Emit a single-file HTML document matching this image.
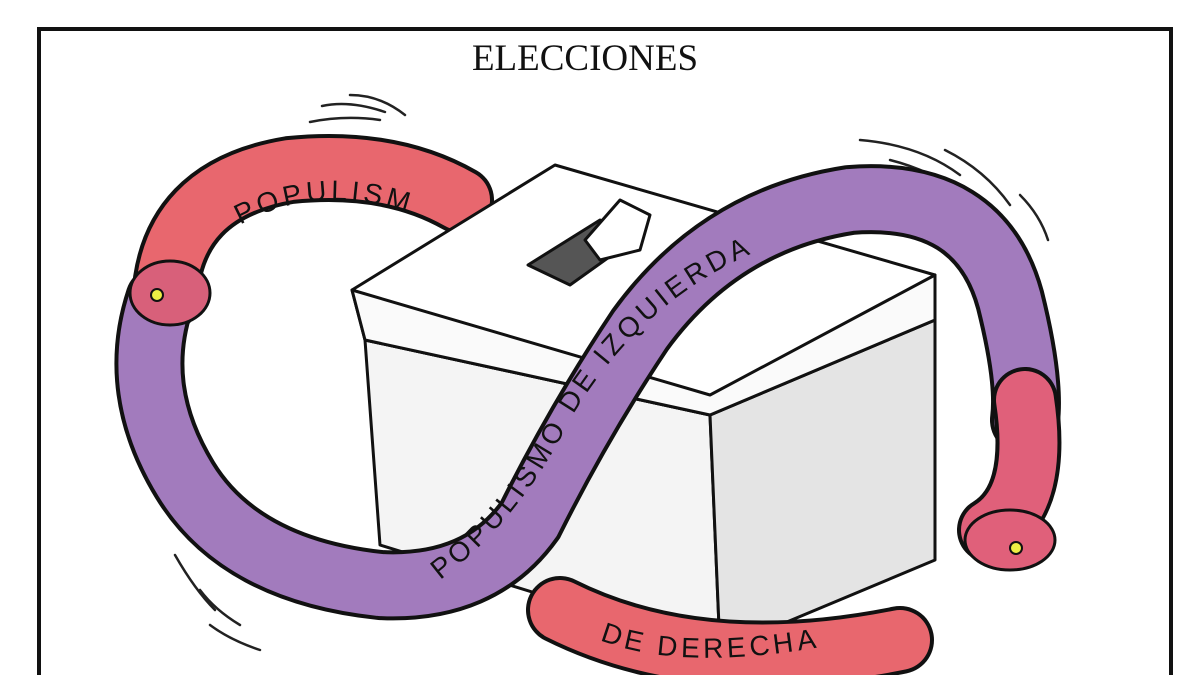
<!DOCTYPE html>
<html><head><meta charset="utf-8"><style>
html,body{margin:0;padding:0;background:#fff;width:1200px;height:675px;overflow:hidden}
svg{display:block}
</style></head><body>
<svg width="1200" height="675" viewBox="0 0 1200 675" xmlns="http://www.w3.org/2000/svg">
<path d="M39 675 L39 29 L1171 29 L1171 675" fill="none" stroke="#111" stroke-width="4"/>
<text x="585" y="70" text-anchor="middle" font-family="Liberation Serif, serif" font-size="37" fill="#111">ELECCIONES</text>
<g stroke="#222" stroke-width="2.5" fill="none" stroke-linecap="round">
<path d="M310 122 Q345 115 380 120"/><path d="M322 106 Q350 100 385 112"/><path d="M350 95 Q380 95 405 115"/>
<path d="M860 140 Q920 145 960 175"/><path d="M890 160 Q930 170 965 195"/><path d="M945 150 Q985 170 1010 205"/><path d="M1020 195 Q1040 215 1048 240"/>
<path d="M175 555 Q195 590 215 610"/><path d="M200 590 Q215 610 240 625"/><path d="M210 625 Q230 640 260 650"/>
</g>
<g fill="none" stroke-linecap="round">
<path d="M165 300 Q170 190 290 170 Q390 160 460 200" stroke="#111" stroke-width="68"/>
<path d="M165 300 Q170 190 290 170 Q390 160 460 200" stroke="#e8676e" stroke-width="60"/>
</g>
<g stroke="#111" stroke-width="3" stroke-linejoin="round">
<polygon points="365,340 710,415 720,650 380,545" fill="#f4f4f4"/>
<polygon points="710,415 935,320 935,560 720,650" fill="#e4e4e4"/>
<polygon points="352,290 555,165 935,275 935,320 710,415 365,340" fill="#fff"/>
<polygon points="352,290 710,395 935,275 935,320 710,415 365,340" fill="#fafafa"/>
<polygon points="528,265 600,220 640,235 570,285" fill="#555"/>
<polygon points="585,240 620,200 650,215 640,250 600,260" fill="#fff"/>
</g>
<g fill="none" stroke-linecap="round">
<path d="M160 300 Q130 390 185 480 Q240 570 380 585 Q480 590 530 520 Q580 420 640 330 Q720 220 850 200 Q980 190 1010 300 Q1030 380 1025 420" stroke="#111" stroke-width="70"/>
<path d="M160 300 Q130 390 185 480 Q240 570 380 585 Q480 590 530 520 Q580 420 640 330 Q720 220 850 200 Q980 190 1010 300 Q1030 380 1025 420" stroke="#a27bbd" stroke-width="62"/>
</g>
<g fill="none" stroke-linecap="round">
<path d="M1025 400 Q1040 500 990 530" stroke="#111" stroke-width="66"/>
<path d="M1025 400 Q1040 500 990 530" stroke="#e0607a" stroke-width="58"/>
<path d="M560 610 Q700 680 900 640" stroke="#111" stroke-width="68"/>
<path d="M560 610 Q700 680 900 640" stroke="#e8676e" stroke-width="60"/>
</g>
<ellipse cx="170" cy="293" rx="40" ry="32" fill="#d8607a" stroke="#111" stroke-width="3"/>
<circle cx="157" cy="295" r="6" fill="#ee4" stroke="#111" stroke-width="2"/>
<ellipse cx="1010" cy="540" rx="45" ry="30" fill="#e0607a" stroke="#111" stroke-width="3"/>
<circle cx="1016" cy="548" r="6" fill="#ee4" stroke="#111" stroke-width="2"/>
<defs>
<path id="p1" d="M240 225 Q330 175 440 225"/>
<path id="p2" d="M440 580 Q520 520 570 420 Q640 300 760 250 Q850 220 950 230"/>
<path id="p3" d="M600 640 Q700 680 900 630"/>
</defs>
<g font-family="Liberation Sans, sans-serif" font-size="28" fill="#111" letter-spacing="4">
<text><textPath href="#p1">POPULISM</textPath></text>
<text><textPath href="#p2">POPULISMO DE IZQUIERDA</textPath></text>
<text><textPath href="#p3">DE DERECHA</textPath></text>
</g>
</svg>
</body></html>
